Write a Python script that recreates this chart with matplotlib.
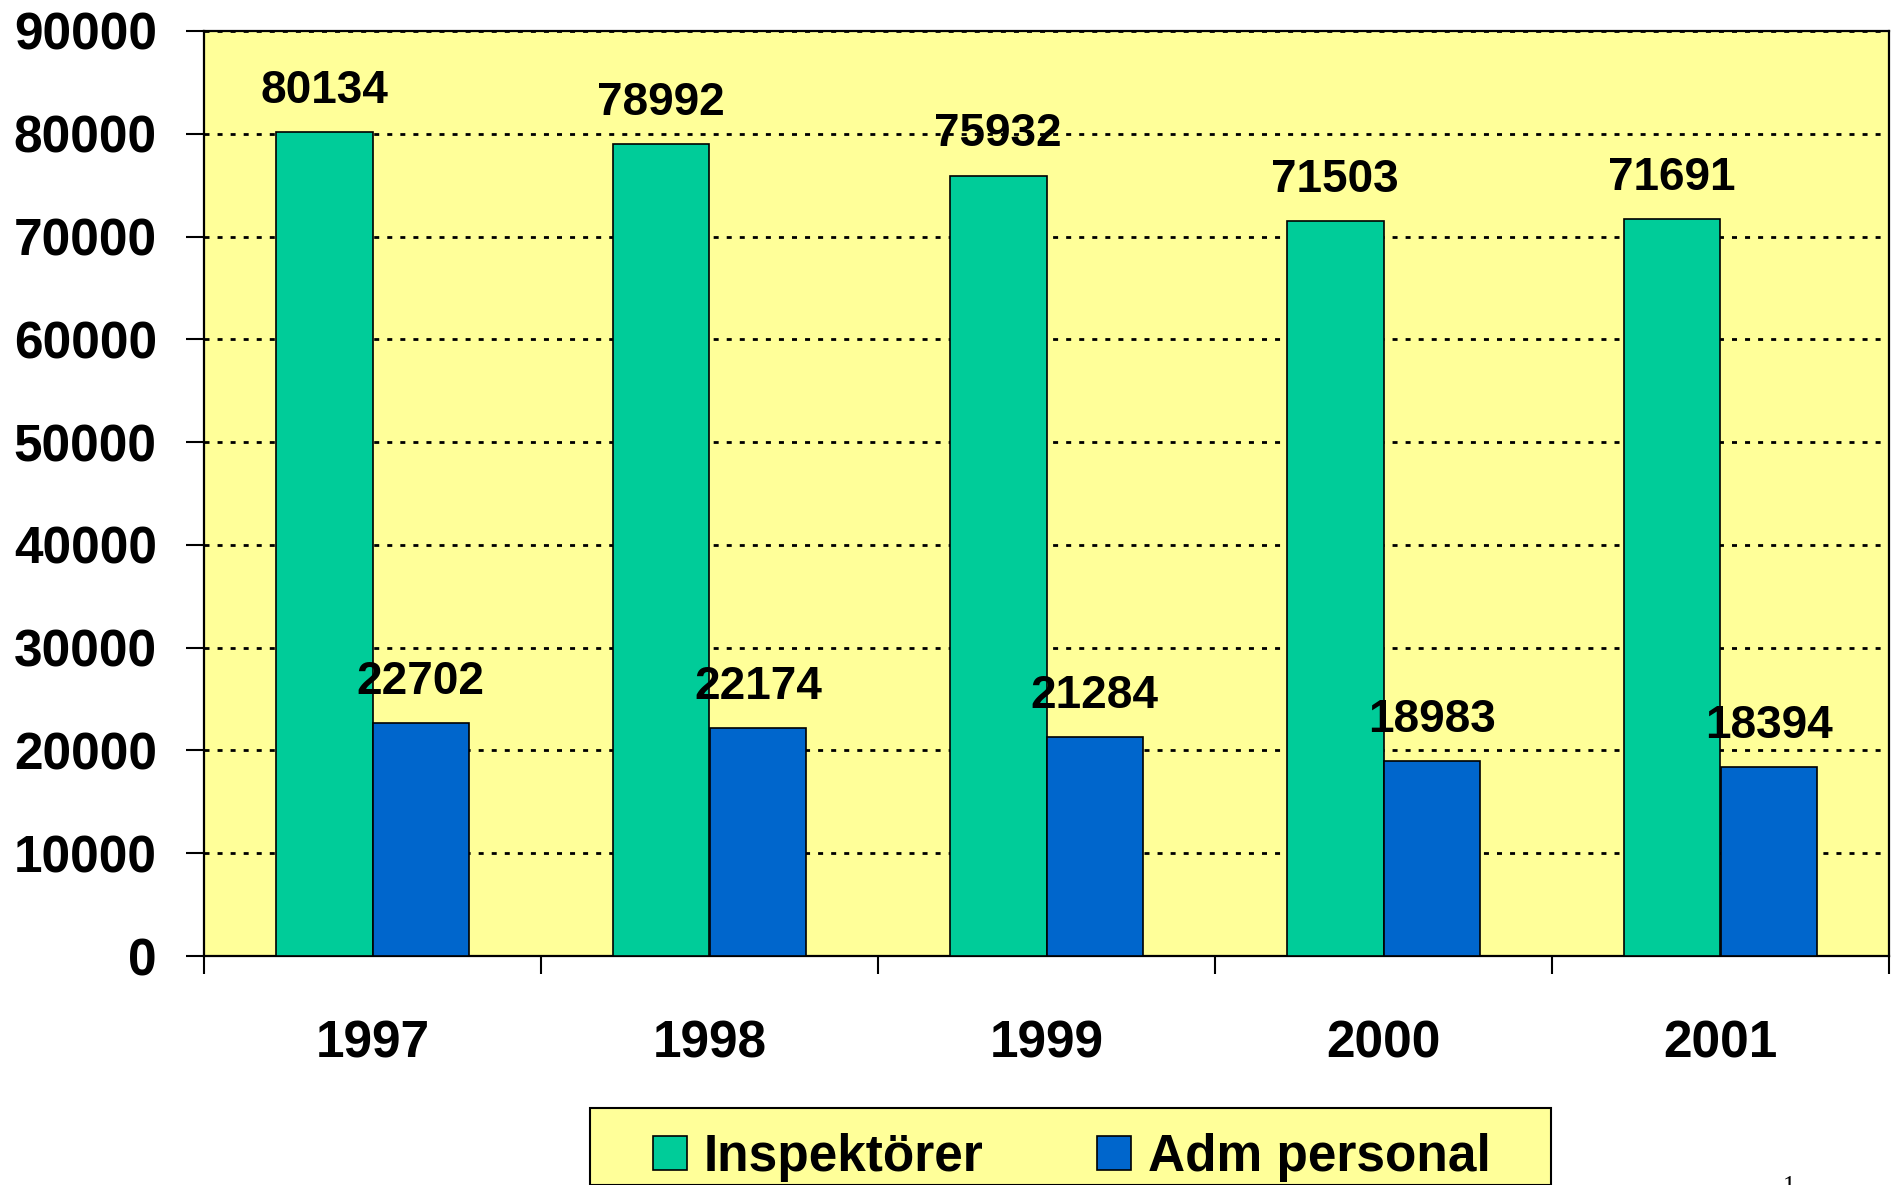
import numpy as np
import matplotlib
matplotlib.use("Agg")
import matplotlib.pyplot as plt
from matplotlib.patches import Rectangle

years = ["1997", "1998", "1999", "2000", "2001"]
inspektorer = [80134, 78992, 75932, 71503, 71691]
adm_personal = [22702, 22174, 21284, 18983, 18394]

GREEN = "#00CC99"
BLUE = "#0066CC"
YELLOW = "#FFFF99"

plt.rcParams["font.family"] = ["Liberation Sans", "DejaVu Sans"]
plt.rcParams["font.weight"] = "bold"

W, H = 1896, 1185
fig = plt.figure(figsize=(W / 100, H / 100), dpi=100)
ax = fig.add_axes([204 / W, (H - 956) / H, 1685 / W, 925 / H])
ax.set_facecolor(YELLOW)

x = np.arange(len(years)) + 0.5
bw = 0.287
b1 = ax.bar(x - bw / 2, inspektorer, bw, color=GREEN, edgecolor="black", linewidth=1.2,
            label="Inspektörer", zorder=3)
b2 = ax.bar(x + bw / 2, adm_personal, bw, color=BLUE, edgecolor="black", linewidth=1.2,
            label="Adm personal", zorder=3)

for bars, vals in ((b1, inspektorer), (b2, adm_personal)):
    for r, v in zip(bars, vals):
        ax.annotate(str(v), (r.get_x() + r.get_width() / 2, v), xytext=(0, 21),
                    textcoords="offset points", ha="center", va="baseline",
                    fontsize=33, fontweight="bold", zorder=4)

ax.set_xlim(0, len(years))
ax.set_ylim(0, 90000)
ax.set_yticks(np.arange(0, 90001, 10000))
ax.set_xticks(np.arange(0, len(years) + 1))
ax.set_xticklabels([])
ax.set_xticks(x, minor=True)
ax.set_xticklabels(years, minor=True)

ax.tick_params(axis="y", direction="out", length=13, width=1.5, pad=21, labelsize=37)
ax.tick_params(axis="x", which="major", direction="out", length=13, width=1.5)
ax.tick_params(axis="x", which="minor", length=0, pad=46, labelsize=37)

ax.set_axisbelow(True)
ax.yaxis.grid(True, color="black", linestyle=(0, (1.8, 2.9)), linewidth=2.0)
for s in ax.spines.values():
    s.set_linewidth(1.6)
    s.set_color("black")

# legend frame drawn separately so its size matches the box in the picture
fig.patches.append(Rectangle((590 / W, 0), (1551 - 590) / W, (H - 1108) / H,
                             transform=fig.transFigure, facecolor=YELLOW,
                             edgecolor="black", linewidth=1.5, zorder=0))
leg = fig.legend(handles=[b1, b2], loc="center left", ncol=2, frameon=False,
                 bbox_to_anchor=(617 / W, (H - 1158) / H), fontsize=37,
                 handlelength=0.66, handleheight=0.64, handletextpad=0.33,
                 columnspacing=2.2, borderpad=0.2)

fig.text(1783 / W, (H - 1176) / H, "1", family="Liberation Serif", fontweight="normal",
         fontsize=18, ha="left", va="top")

fig.savefig("out.png", dpi=100)
